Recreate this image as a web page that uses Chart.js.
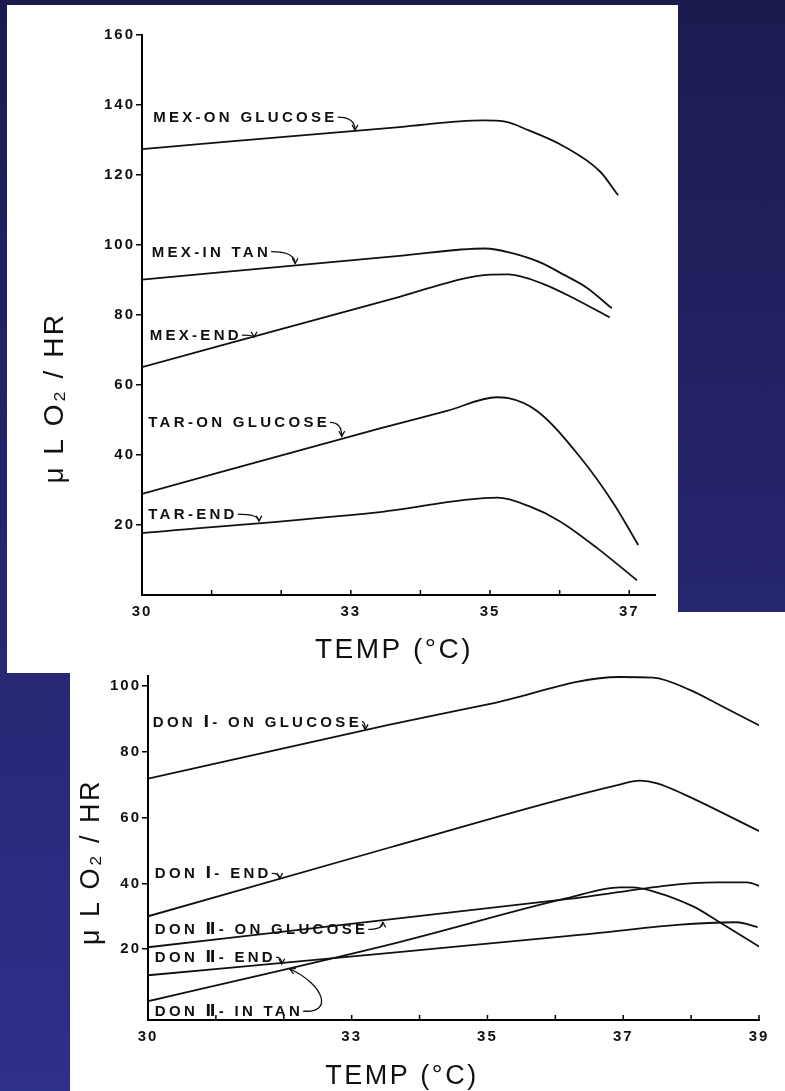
<!DOCTYPE html>
<html>
<head>
<meta charset="utf-8">
<script src="https://cdn.jsdelivr.net/npm/chart.js@4.4.1/dist/chart.umd.min.js"></script>
<style>
  html, body { margin: 0; padding: 0; }
  body {
    width: 785px; height: 1091px; overflow: hidden; position: relative;
    background: linear-gradient(to bottom, #1c1b4e 0%, #2f2f8c 100%);
  }
  .sheet { position: absolute; background: #fff; }
  canvas { position: absolute; }
</style>
</head>
<body>
<div class="sheet" style="left:7px;top:5px;width:671px;height:668px"></div>
<div class="sheet" style="left:70px;top:612px;width:715px;height:479px"></div>
<canvas id="topChart" width="671" height="668" style="left:7px;top:5px"></canvas>
<canvas id="bottomChart" width="715" height="479" style="left:70px;top:612px"></canvas>
<script>
// ---- upper panel: MEX / TAR ----
const topXLabels = [30, 33, 35, 37];
const topYLabels = [20, 40, 60, 80, 100, 120, 140, 160];

const mexOnGlucoseX = [30, 33.7, 34.9, 35.2, 35.55, 36.05, 36.58, 36.84];
const mexOnGlucoseY = [127.4, 133.7, 135.6, 135.3, 132.8, 128.3, 121, 114.2];
const mexInTanX = [30, 33.7, 34.93, 35.29, 35.76, 36.05, 36.39, 36.75];
const mexInTanY = [90.1, 96.9, 99.0, 97.8, 94.7, 91.6, 87.8, 81.9];
const mexEndX = [30, 33.7, 34.83, 35.26, 35.76, 36.25, 36.72];
const mexEndY = [65.1, 85.2, 91.2, 91.6, 88.9, 84.3, 79.3];
const tarOnGlucoseX = [30, 33.42, 34.38, 35.1, 35.25, 35.68, 36.29, 36.77, 37.13];
const tarOnGlucoseY = [28.9, 47.6, 52.6, 56.5, 56.3, 52.5, 39.5, 26.3, 14.3];
const tarEndX = [30, 33.42, 35.11, 35.57, 36.0, 36.54, 37.11];
const tarEndY = [17.7, 23.7, 27.8, 25.3, 21.1, 13.4, 4.2];

// ---- lower panel: DON I / DON II ----
const bottomXLabels = [30, 33, 35, 37, 39];
const bottomYLabels = [20, 40, 60, 80, 100];

const donIOnGlucoseX = [30, 33.56, 35.04, 36.95, 37.44, 37.98, 38.42, 39.04];
const donIOnGlucoseY = [71.8, 88.2, 94.5, 102.7, 102.5, 98.8, 94.2, 87.6];
const donIEndX = [30, 33.56, 36.9, 37.25, 37.5, 37.88, 39.01];
const donIEndY = [30, 50.9, 69.8, 71.2, 70.4, 67.2, 55.8];
const donIIOnGlucoseX = [30, 33.69, 36.17, 38.38, 38.82, 39.06];
const donIIOnGlucoseY = [20.6, 29.4, 35.2, 40.3, 40.3, 38.8];
const donIIEndX = [30, 33.69, 36.17, 38.67, 38.98];
const donIIEndY = [12.1, 19.1, 24.0, 28.2, 26.7];
const donIIInTanX = [30, 33.69, 36.17, 36.95, 37.14, 37.44, 38.03, 38.42, 39.04];
const donIIInTanY = [4.2, 22.1, 35.5, 38.8, 38.8, 37.6, 33.0, 28.2, 20.3];

const FONT = '"Liberation Sans", "DejaVu Sans", Arial, sans-serif';
const INK = '#111';

function pts(xs, ys) {
  return xs.map((v, i) => ({ x: v, y: ys[i] }));
}

function curve(label, xs, ys) {
  return {
    label: label,
    data: pts(xs, ys),
    borderColor: INK,
    borderWidth: 1.8,
    pointRadius: 0,
    fill: false,
    cubicInterpolationMode: 'monotone'
  };
}

function arrow(ctx, sx, sy, tx, ty, curl) {
  let cx, cy;
  ctx.beginPath();
  ctx.moveTo(sx, sy);
  if (curl) {
    cx = sx + 22; cy = ty + 16;
    ctx.bezierCurveTo(sx + 30, sy + 3, cx, cy, tx, ty);
  } else {
    cx = tx; cy = sy;
    ctx.quadraticCurveTo(cx, cy, tx, ty);
  }
  ctx.stroke();
  const a = Math.atan2(ty - cy, tx - cx);
  ctx.beginPath();
  ctx.moveTo(tx - 6 * Math.cos(a - 0.5), ty - 6 * Math.sin(a - 0.5));
  ctx.lineTo(tx, ty);
  ctx.lineTo(tx - 6 * Math.cos(a + 0.5), ty - 6 * Math.sin(a + 0.5));
  ctx.stroke();
}

// draws the inward x ticks, curve names with arrows and the axis titles
function sketch(cfg) {
  return {
    id: 'sketch',
    beforeDraw(chart) {
      chart.ctx.letterSpacing = '2px';
    },
    afterDraw(chart) {
      const { ctx, chartArea } = chart;
      const x = chart.scales.x, y = chart.scales.y;
      ctx.save();
      ctx.strokeStyle = '#000';
      ctx.lineWidth = 1.5;
      x.ticks.forEach(t => {
        const px = x.getPixelForValue(t.value);
        ctx.beginPath();
        ctx.moveTo(px, chartArea.bottom);
        ctx.lineTo(px, chartArea.bottom - 5);
        ctx.stroke();
      });

      ctx.fillStyle = INK;
      ctx.strokeStyle = INK;
      ctx.lineWidth = 1.3;
      ctx.font = 'bold 15px ' + FONT;
      ctx.letterSpacing = '3.3px';
      ctx.textAlign = 'left';
      ctx.textBaseline = 'alphabetic';
      cfg.labels.forEach(l => {
        const lx = x.getPixelForValue(l.at[0]);
        const ly = y.getPixelForValue(l.at[1]);
        ctx.fillText(l.text, lx, ly);
        const w = ctx.measureText(l.text).width;
        arrow(ctx, lx + w, ly - 5, x.getPixelForValue(l.to[0]), y.getPixelForValue(l.to[1]), l.curl);
      });

      ctx.font = cfg.titleSize + 'px ' + FONT;
      ctx.letterSpacing = '2.5px';
      ctx.textAlign = 'center';
      ctx.textBaseline = 'middle';
      ctx.fillText('TEMP (°C)', cfg.xTitle[0], cfg.xTitle[1]);
      ctx.translate(cfg.yTitle[0], cfg.yTitle[1]);
      ctx.rotate(-Math.PI / 2);
      ctx.fillText('μ L O₂ / HR', 0, 0);
      ctx.restore();
    }
  };
}

function scalesFor(xMin, xMax, xLabels, yMin, yMax, yLabels, yWidth, xHeight) {
  const tickFont = { family: FONT, size: 15, weight: 'bold' };
  return {
    x: {
      type: 'linear',
      min: xMin,
      max: xMax,
      border: { color: '#000', width: 2 },
      grid: { drawOnChartArea: false, drawTicks: false },
      ticks: {
        stepSize: 1,
        includeBounds: false,
        autoSkip: false,
        maxRotation: 0,
        padding: 8,
        color: INK,
        font: tickFont,
        callback: v => xLabels.includes(v) ? String(v) : ''
      },
      afterFit: s => { s.height = xHeight; }
    },
    y: {
      type: 'linear',
      min: yMin,
      max: yMax,
      border: { color: '#000', width: 2 },
      grid: {
        drawOnChartArea: false,
        drawTicks: true,
        tickLength: 6,
        lineWidth: 1.5,
        color: c => (c.tick && yLabels.includes(c.tick.value)) ? '#000' : 'rgba(0,0,0,0)'
      },
      ticks: {
        stepSize: 20,
        includeBounds: false,
        padding: 1,
        color: INK,
        font: tickFont,
        callback: v => yLabels.includes(v) ? String(v) : ''
      },
      afterFit: s => { s.width = yWidth; }
    }
  };
}

const baseOptions = {
  responsive: false,
  animation: false,
  devicePixelRatio: 1,
  events: [],
  plugins: { legend: { display: false }, tooltip: { enabled: false } }
};

new Chart(document.getElementById('topChart'), {
  type: 'line',
  data: {
    datasets: [
      curve('MEX-ON GLUCOSE', mexOnGlucoseX, mexOnGlucoseY),
      curve('MEX-IN TAN', mexInTanX, mexInTanY),
      curve('MEX-END', mexEndX, mexEndY),
      curve('TAR-ON GLUCOSE', tarOnGlucoseX, tarOnGlucoseY),
      curve('TAR-END', tarEndX, tarEndY)
    ]
  },
  options: Object.assign({}, baseOptions, {
    layout: { padding: { top: 30, right: 23, left: 0, bottom: 0 } },
    scales: scalesFor(30, 37.37, topXLabels, 0, 160, topYLabels, 135, 78)
  }),
  plugins: [sketch({
    titleSize: 28,
    xTitle: [387, 645],
    yTitle: [48, 393],
    labels: [
      { text: 'MEX-ON GLUCOSE', at: [30.16, 135.1], to: [33.06, 132.8] },
      { text: 'MEX-IN TAN', at: [30.14, 96.7], to: [32.2, 94.7] },
      { text: 'MEX-END', at: [30.11, 72.8], to: [31.61, 73.7] },
      { text: 'TAR-ON GLUCOSE', at: [30.09, 47.9], to: [32.87, 45.3] },
      { text: 'TAR-END', at: [30.09, 21.7], to: [31.68, 21.1] }
    ]
  })]
});

new Chart(document.getElementById('bottomChart'), {
  type: 'line',
  data: {
    datasets: [
      curve('DON I-ON GLUCOSE', donIOnGlucoseX, donIOnGlucoseY),
      curve('DON I-END', donIEndX, donIEndY),
      curve('DON II-ON GLUCOSE', donIIOnGlucoseX, donIIOnGlucoseY),
      curve('DON II-END', donIIEndX, donIIEndY),
      curve('DON II-IN TAN', donIIInTanX, donIIInTanY)
    ]
  },
  options: Object.assign({}, baseOptions, {
    layout: { padding: { top: 64, right: 26, left: 0, bottom: 0 } },
    scales: scalesFor(30, 39, bottomXLabels, -1.5, 103, bottomYLabels, 78, 71)
  }),
  plugins: [sketch({
    titleSize: 27,
    xTitle: [332, 465],
    yTitle: [22, 250],
    labels: [
      { text: 'DON Ⅰ- ON GLUCOSE', at: [30.07, 87.6], to: [33.2, 86.7] },
      { text: 'DON Ⅰ- END', at: [30.1, 41.5], to: [31.94, 41.5] },
      { text: 'DON Ⅱ- ON GLUCOSE', at: [30.1, 24.5], to: [33.46, 28.2] },
      { text: 'DON Ⅱ- END', at: [30.1, 16.1], to: [31.97, 15.5] },
      { text: 'DON Ⅱ- IN TAN', at: [30.1, -0.3], to: [32.09, 14], curl: true }
    ]
  })]
});
</script>
</body>
</html>
